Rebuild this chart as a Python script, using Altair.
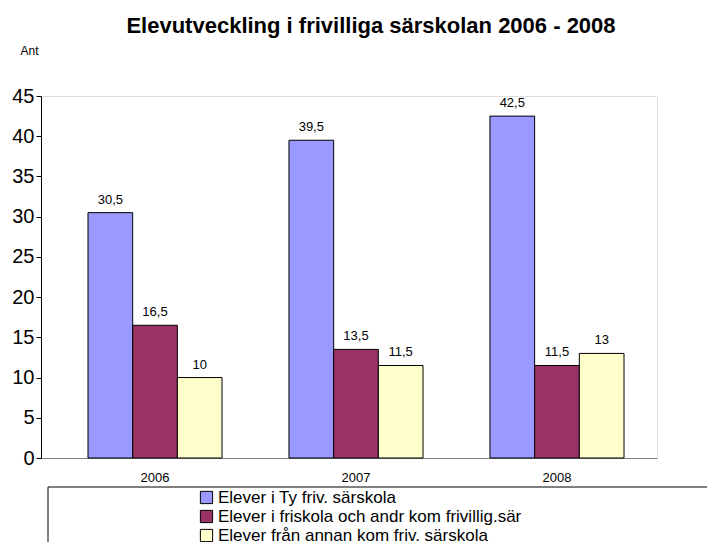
import altair as alt
import pandas as pd

years = ["2006", "2007", "2008"]
series = [
    "Elever i Ty friv. särskola",
    "Elever i friskola och andr kom frivillig.sär",
    "Elever från annan kom friv. särskola",
]
values_ty = [30.5, 39.5, 42.5]
values_fri = [16.5, 13.5, 11.5]
values_annan = [10, 11.5, 13]
colors = ["#9999FF", "#993366", "#FFFFCC"]

rows = []
for i, y in enumerate(years):
    for s, vals in zip(series, [values_ty, values_fri, values_annan]):
        rows.append({"year": y, "series": s, "value": vals[i]})
df = pd.DataFrame(rows)

FONT = "Arial, Liberation Sans, sans-serif"

x = alt.X("year:N", sort=years,
          scale=alt.Scale(paddingInner=0.333, paddingOuter=0.199, align=0.5875),
          axis=alt.Axis(title=None, labelAngle=0, labelFontSize=13, labelFont=FONT,
                        labelColor="black", ticks=False, domainColor="#808080",
                        labelPadding=13))
xoff = alt.XOffset("series:N", sort=series, scale=alt.Scale(paddingInner=0, paddingOuter=0))
y = alt.Y("value:Q", scale=alt.Scale(domain=[0, 45], nice=False),
          axis=alt.Axis(values=list(range(0, 50, 5)), grid=False, labelFontSize=20,
                        labelFont=FONT, labelColor="black", tickSize=5, tickColor="black",
                        domainColor="black", labelPadding=2,
                        title="Ant", titleAngle=0, titleFont=FONT, titleFontSize=12,
                        titleFontWeight="normal", titleColor="black", titleAlign="left",
                        titleBaseline="middle", titleX=-21, titleY=-46))

color = alt.Color("series:N", sort=series,
                  scale=alt.Scale(domain=series, range=colors),
                  legend=alt.Legend(title=None, orient="none", legendX=157, legendY=393,
                                    symbolType="square", symbolSize=150,
                                    symbolStrokeColor="black", symbolStrokeWidth=1,
                                    symbolOpacity=1,
                                    labelFontSize=17, labelFont=FONT, labelColor="black",
                                    labelLimit=600, rowPadding=1, labelOffset=3,
                                    padding=0))

base = alt.Chart(df)
bars = base.mark_bar(stroke="black", strokeWidth=1, opacity=1).encode(
    x=x, xOffset=xoff, y=y, color=color
)
labels = base.mark_text(baseline="bottom", dy=-6, fontSize=13, font=FONT, color="black").transform_calculate(
    label="replace(toString(datum.value), '.', ',')"
).encode(x=x, xOffset=xoff, y=y, text="label:N")

box = alt.Chart(pd.DataFrame({"a": [0]})).mark_rect(
    fill="white", stroke="black", strokeWidth=1
).encode(x=alt.value(7), x2=alt.value(720), y=alt.value(391), y2=alt.value(470))

chart = alt.layer(box, bars, labels).properties(
    width=616, height=362,
    title=alt.TitleParams("Elevutveckling i frivilliga särskolan 2006 - 2008",
                          fontSize=22, font=FONT, fontWeight="bold", color="black",
                          anchor="middle", dx=22, offset=6),
    autosize=alt.AutoSizeParams(type="none"),
    padding={"left": 33, "top": 88, "right": 50, "bottom": 84},
).configure_view(stroke="#808080", strokeWidth=1).configure(background="white")

chart.save("out.html", embed_options={"renderer": "svg", "actions": False})
